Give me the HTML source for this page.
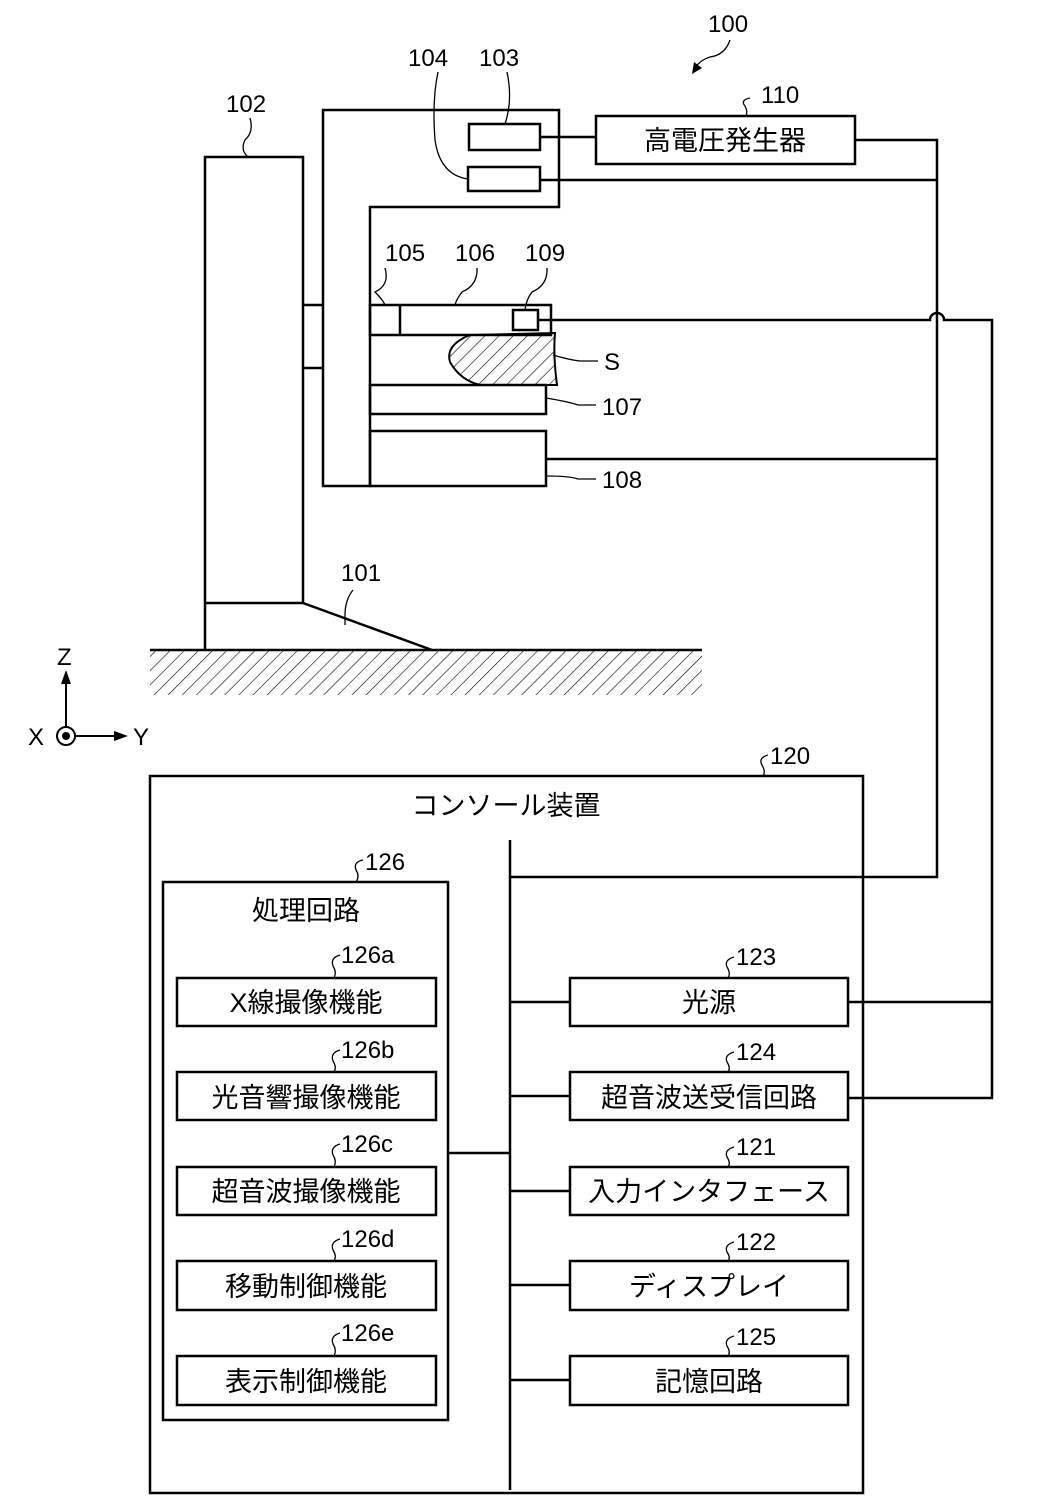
<!DOCTYPE html>
<html><head><meta charset="utf-8"><style>
html,body{margin:0;padding:0;background:#fff}
svg{display:block}
text{font-family:"Liberation Sans","Noto Sans CJK JP",sans-serif;fill:#000}
</style></head><body>
<svg width="1039" height="1512" viewBox="0 0 1039 1512" xmlns="http://www.w3.org/2000/svg">
<defs>
<pattern id="h" width="10" height="10" patternUnits="userSpaceOnUse" patternTransform="rotate(45)">
<line x1="0" y1="0" x2="0" y2="10" stroke="#000" stroke-width="1.2"/>
</pattern>
<clipPath id="gc"><rect x="150" y="651" width="552" height="44"/></clipPath>
</defs>
<g fill="none" stroke="#000" stroke-width="2.5">
<polyline points="205,650 205,157 303,157 303,603"/>
<line x1="205" y1="603" x2="303" y2="603"/>
<line x1="303" y1="603" x2="432" y2="650"/>
<line x1="150" y1="650" x2="702" y2="650"/>
<line x1="303" y1="305" x2="323" y2="305"/>
<line x1="303" y1="368" x2="323" y2="368"/>
<polygon points="323,110 559,110 559,207 370,207 370,486 323,486"/>
<rect x="469" y="124" width="71" height="26"/>
<rect x="468" y="167" width="72" height="24"/>
<rect x="370" y="305" width="181" height="30"/>
<line x1="400" y1="305" x2="400" y2="335"/>
<rect x="513" y="310" width="25" height="20"/>
<rect x="370" y="385" width="176" height="29"/>
<rect x="370" y="431" width="176" height="55"/>
<rect x="596" y="116" width="259" height="48"/>
<line x1="540" y1="137" x2="596" y2="137"/>
<line x1="540" y1="180" x2="937" y2="180"/>
<polyline points="855,140 937,140 937,877 510,877"/>
<line x1="546" y1="459" x2="937" y2="459"/>
<path d="M538,320 L930,320 A7,7 0 0 1 944,320 L992,320 L992,1098 L848,1098"/>
<line x1="848" y1="1002" x2="992" y2="1002"/>
<rect x="150" y="776" width="713" height="717"/>
<line x1="510" y1="840" x2="510" y2="1490"/>
<rect x="163" y="882" width="285" height="538"/>
<line x1="448" y1="1153" x2="510" y2="1153"/>
<rect x="177" y="978" width="259" height="48"/>
<rect x="177" y="1072" width="259" height="48"/>
<rect x="177" y="1167" width="259" height="48"/>
<rect x="177" y="1261" width="259" height="49"/>
<rect x="177" y="1356" width="259" height="49"/>
<rect x="570" y="978" width="278" height="48"/>
<rect x="570" y="1072" width="278" height="48"/>
<rect x="570" y="1167" width="278" height="48"/>
<rect x="570" y="1261" width="278" height="49"/>
<rect x="570" y="1356" width="278" height="49"/>
<line x1="510" y1="1002" x2="570" y2="1002"/>
<line x1="510" y1="1096" x2="570" y2="1096"/>
<line x1="510" y1="1191" x2="570" y2="1191"/>
<line x1="510" y1="1285" x2="570" y2="1285"/>
<line x1="510" y1="1380" x2="570" y2="1380"/>
</g>
<path d="M470,335 Q445,345 450,362 Q460,380 480,385 L557,385 Q553,355 555,333 Z" fill="url(#h)" stroke="#000" stroke-width="2"/>
<rect x="150" y="651" width="552" height="44" fill="url(#h)" clip-path="url(#gc)"/>
<g fill="none" stroke="#000" stroke-width="1.3">
<path d="M385,268 Q390,285 375,292 Q383,300 385,305"/>
<path d="M477,268 Q478,285 462,292 Q456,300 455,305"/>
<path d="M547,268 Q548,285 532,292 Q526,300 525,310"/>
<path d="M507,72 Q513,100 505,124"/>
<path d="M438,72 Q432,100 435,140 Q440,175 468,179"/>
<path d="M250,118 Q254,132 245,140 Q240,150 248,157"/>
<path d="M553,355 Q570,360 580,361 L598,361"/>
<path d="M546,398 Q570,402 578,405 L596,405"/>
<path d="M546,476 Q570,476 578,479 L596,479"/>
<path d="M353,590 Q345,600 345,615 L345,625"/>
<path d="M730,40 Q725,55 710,57 Q700,60 695,68"/>
<path d="M750,98 Q740,100 745,106 Q748,112 746,116"/>
</g>
<polygon points="692,74 694,62 702,68" fill="#000"/>
<g stroke="#000" stroke-width="2" fill="none">
<circle cx="66" cy="736" r="9"/>
<line x1="66" y1="727" x2="66" y2="680"/>
<line x1="75" y1="736" x2="118" y2="736"/>
</g>
<circle cx="66" cy="736" r="4" fill="#000"/>
<polygon points="66,670 61,684 71,684" fill="#000"/>
<polygon points="128,736 114,731 114,741" fill="#000"/>
<g font-size="24">
<text x="57" y="665">Z</text>
<text x="28" y="745">X</text>
<text x="133" y="745">Y</text>
<text x="708" y="32">100</text>
<text x="761" y="103">110</text>
<text x="408" y="66">104</text>
<text x="479" y="66">103</text>
<text x="226" y="112">102</text>
<text x="385" y="261">105</text>
<text x="455" y="261">106</text>
<text x="525" y="261">109</text>
<text x="604" y="370">S</text>
<text x="602" y="415">107</text>
<text x="602" y="488">108</text>
<text x="341" y="581">101</text>
<text x="770" y="764">120</text>
<text x="365" y="870">126</text>
<text x="341" y="963">126a</text>
<text x="341" y="1058">126b</text>
<text x="341" y="1152">126c</text>
<text x="341" y="1247">126d</text>
<text x="341" y="1341">126e</text>
<text x="736" y="965">123</text>
<text x="736" y="1060">124</text>
<text x="736" y="1155">121</text>
<text x="736" y="1250">122</text>
<text x="736" y="1345">125</text>
</g>
<g fill="none" stroke="#000" stroke-width="1.3">
<path d="M768,755 Q758,758 762,765 Q766,772 763,776"/>
<path d="M363,860 Q353,862 356,870 Q360,876 356,882"/>
<path d="M340,955 Q330,958 333,966 Q337,972 334,978"/>
<path d="M340,1050 Q330,1053 333,1061 Q337,1067 334,1072"/>
<path d="M340,1144 Q330,1147 333,1155 Q337,1161 334,1167"/>
<path d="M340,1239 Q330,1242 333,1250 Q337,1256 334,1261"/>
<path d="M340,1333 Q330,1336 333,1344 Q337,1350 334,1356"/>
<path d="M734,957 Q724,960 727,967 Q731,973 728,978"/>
<path d="M734,1052 Q724,1055 727,1062 Q731,1068 728,1072"/>
<path d="M734,1147 Q724,1150 727,1157 Q731,1163 728,1167"/>
<path d="M734,1242 Q724,1245 727,1252 Q731,1258 728,1261"/>
<path d="M734,1336 Q724,1339 727,1346 Q731,1352 728,1356"/>
</g>
<g font-size="27" text-anchor="middle">
<text x="725" y="150">高電圧発生器</text>
<text x="506" y="815">コンソール装置</text>
<text x="306" y="920">処理回路</text>
<text x="306" y="1012">X線撮像機能</text>
<text x="306" y="1107">光音響撮像機能</text>
<text x="306" y="1201">超音波撮像機能</text>
<text x="306" y="1296">移動制御機能</text>
<text x="306" y="1391">表示制御機能</text>
<text x="709" y="1012">光源</text>
<text x="709" y="1107">超音波送受信回路</text>
<text x="709" y="1201">入力インタフェース</text>
<text x="709" y="1296">ディスプレイ</text>
<text x="709" y="1391">記憶回路</text>
</g>
</svg>
</body></html>
